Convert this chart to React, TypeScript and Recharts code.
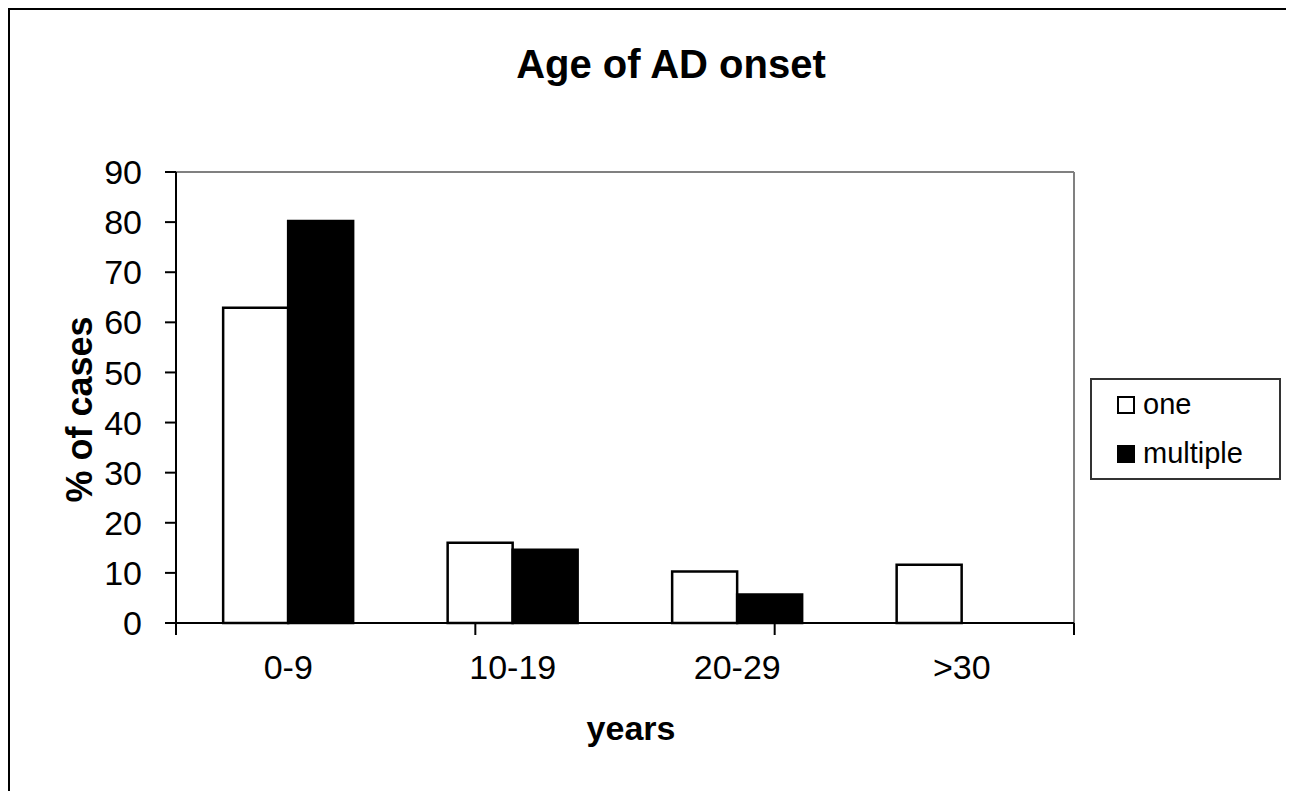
import { BarChart, Bar, XAxis, YAxis, Legend } from 'recharts';

const FONT = '"Liberation Sans", Arial, Helvetica, sans-serif';

// values (% of cases per onset age range)
const ranges = ['0-9', '10-19', '20-29', '>30'];
const one = [62.9, 16, 10.3, 11.6];
const multiple = [80.2, 14.6, 5.7, 0];
const seriesOrder = ['one', 'multiple'];
const yTicks = [0, 10, 20, 30, 40, 50, 60, 70, 80, 90];
const boundTicks = [0, 1, 2, 3, 4];

const data = ranges.map((range, i) => ({ range, one: one[i], multiple: multiple[i] }));

function BoxLegend({ payload }: any) {
  const items = [...(payload || [])].sort(
    (a: any, b: any) => seriesOrder.indexOf(a.value) - seriesOrder.indexOf(b.value)
  );
  return (
    <div
      style={{
        boxSizing: 'border-box',
        width: 191,
        height: 102,
        border: '2px solid #333',
        paddingLeft: 25,
        background: '#fff',
      }}
    >
      {items.map((item: any) => (
        <div key={item.value} style={{ display: 'flex', alignItems: 'center', height: 49 }}>
          <span
            style={{
              display: 'inline-block',
              width: 18,
              height: 18,
              boxSizing: 'border-box',
              border: '2px solid #000',
              background: item.color,
              marginRight: 8,
            }}
          />
          <span style={{ fontSize: 29, fontFamily: FONT, color: '#000' }}>{item.value}</span>
        </div>
      ))}
    </div>
  );
}

function ChartTitle({ viewBox }: any) {
  return (
    <text
      x={viewBox.x + viewBox.width / 2 + 46}
      y={viewBox.y - 93}
      textAnchor="middle"
      fontFamily={FONT}
      fontSize={40}
      fontWeight="bold"
      fill="#000"
    >
      Age of AD onset
    </text>
  );
}

function YTitle({ viewBox }: any) {
  const x = viewBox.x - 4;
  const y = viewBox.y + viewBox.height / 2 + 12;
  return (
    <text
      x={x}
      y={y}
      transform={`rotate(-90, ${x}, ${y})`}
      textAnchor="middle"
      fontFamily={FONT}
      fontSize={36}
      fontWeight="bold"
      fill="#000"
    >
      % of cases
    </text>
  );
}

function XTitle({ viewBox }: any) {
  return (
    <text
      x={viewBox.x + viewBox.width / 2 + 6}
      y={viewBox.y + 116}
      textAnchor="middle"
      fontFamily={FONT}
      fontSize={34}
      fontWeight="bold"
      fill="#000"
    >
      years
    </text>
  );
}

const NoLabel = () => <g />;

export default function App() {
  const tickStyle = { fill: '#000', fontSize: 34, fontFamily: FONT };
  return (
    <>
      <style>{'html,body{overflow:hidden}'}</style>
      <div
        style={{
          boxSizing: 'border-box',
          width: 1286,
          height: 783,
          borderTop: '2px solid #000',
          borderLeft: '2px solid #000',
          background: '#fff',
          overflow: 'hidden',
        }}
      >
        <BarChart
          width={1284}
          height={781}
          data={data}
          margin={{ top: 161, right: 219, bottom: 166, left: 86 }}
          barCategoryGap="21%"
          barGap={0}
        >
          {/* frame: grey top/right edges of the plot area */}
          <XAxis
            xAxisId="top"
            orientation="top"
            type="number"
            domain={[0, 4]}
            allowDataOverflow
            height={1}
            tick={false}
            tickLine={false}
            axisLine={{ stroke: '#808080', strokeWidth: 2 }}
            label={{ content: (p: any) => <ChartTitle {...p} /> }}
          />
          <YAxis
            yAxisId="right"
            orientation="right"
            domain={[0, 90]}
            allowDataOverflow
            width={1}
            tick={false}
            tickLine={false}
            axisLine={{ stroke: '#808080', strokeWidth: 2 }}
          />
          {/* bottom axis line with ticks between categories */}
          <XAxis
            xAxisId="bounds"
            type="number"
            domain={[0, 4]}
            ticks={boundTicks}
            allowDataOverflow
            height={1}
            tick={NoLabel}
            tickSize={12}
            tickLine={{ stroke: '#000', strokeWidth: 2 }}
            axisLine={{ stroke: '#000', strokeWidth: 2 }}
          />
          <XAxis
            xAxisId="cat"
            dataKey="range"
            height={1}
            axisLine={false}
            tickLine={false}
            tickSize={0}
            tickMargin={31}
            tick={tickStyle}
            interval={0}
            label={{ content: (p: any) => <XTitle {...p} /> }}
          />
          <YAxis
            domain={[0, 90]}
            ticks={yTicks}
            width={80}
            tickSize={11}
            tickMargin={23}
            tick={tickStyle}
            tickLine={{ stroke: '#000', strokeWidth: 2 }}
            axisLine={{ stroke: '#000', strokeWidth: 2 }}
            label={{ content: (p: any) => <YTitle {...p} /> }}
          />
          <Legend
            layout="horizontal"
            verticalAlign="middle"
            align="center"
            content={(p: any) => <BoxLegend {...p} />}
            wrapperStyle={{ left: 1080, top: 368, width: 191, height: 102 }}
          />
          <Bar
            xAxisId="cat"
            dataKey="one"
            name="one"
            fill="#ffffff"
            stroke="#000"
            strokeWidth={2.5}
            isAnimationActive={false}
          />
          <Bar
            xAxisId="cat"
            dataKey="multiple"
            name="multiple"
            fill="#000000"
            stroke="#000"
            strokeWidth={2.5}
            isAnimationActive={false}
          />
        </BarChart>
      </div>
    </>
  );
}
